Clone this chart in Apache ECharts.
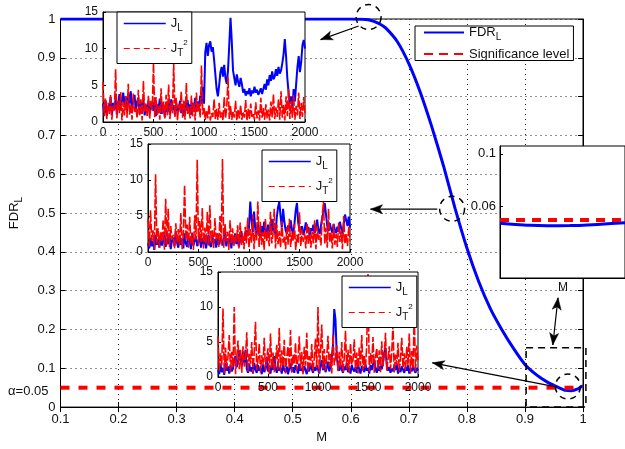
<!DOCTYPE html>
<html><head><meta charset="utf-8">
<script src="https://cdn.jsdelivr.net/npm/echarts@6/dist/echarts.min.js"></script>
<style>html,body{margin:0;padding:0;background:#fff}#c{width:625px;height:449px}</style>
</head><body><div id="c"></div>
<script>
const FONT = '"Liberation Sans", Arial, Helvetica, sans-serif';
const TXT = '#111';

// ---- main chart data ----
const mainM   = [0.1,0.2,0.3,0.4,0.5,0.55,0.6,0.62,0.63,0.64,0.65,0.66,0.68,0.70,0.72,0.74,0.76,0.78,0.80,0.82,0.84,0.86,0.88,0.90,0.92,0.94,0.95,0.96,0.97,0.98,0.99,1.0];
const mainFDR = [1,1,1,1,1,1,1,0.9995,0.998,0.994,0.987,0.977,0.942,0.885,0.81,0.72,0.62,0.51,0.41,0.325,0.255,0.2,0.152,0.11,0.083,0.063,0.056,0.049,0.043,0.042,0.046,0.055];
const alphaLevel = 0.05;

// ---- inset series (sample index 0..2000, 161 samples) ----
const sampleSpan = 2000;
const inset1JL = [2.5,1.2,3.0,0.8,2.2,1.5,3.4,0.9,2.6,1.8, 3.2,1.0,2.4,3.8,1.6,2.9,4.0,2.2,3.5,1.3, 3.9,2.5,4.2,1.8,3.0,3.7,1.4,2.8,3.3,1.1, 2.6,1.9,3.1,0.9,2.3,1.6,2.9,1.2,2.0,2.7, 1.5,3.0,0.8,2.4,1.8,3.2,1.1,2.5,1.9,0.7, 2.2,1.4,2.8,1.0,3.1,1.7,2.3,0.9,2.6,1.5, 1.8,2.9,1.2,2.1,0.8,2.7,1.6,3.0,1.3,2.4, 1.0,2.6,1.9,3.3,1.4,2.8,2.0,3.6,2.5,4.8,
  2.5,9.5,10.8,9.0,10.5,11.0,9.6,10.2,8.5,6.5, 4.5,3.5,5.0,6.8,7.5,6.2,7.8,6.0,5.2,7.0, 10.5,14.2,11.0,7.0,6.0,5.0,6.5,5.5,4.8,6.0, 5.2,4.0,4.5,3.6,4.2,3.8,4.6,3.5,4.3,3.9, 4.8,4.0,4.4,3.7,4.1,4.6,3.8,4.5,5.2,4.4, 5.8,5.0,6.4,5.6,6.9,5.8,6.2,7.2,6.3,7.5, 6.6,7.0,8.0,9.2,11.3,9.0,6.0,4.0,2.5,3.5, 1.8,4.5,2.8,5.2,7.5,9.0,6.8,8.2,10.5,11.2,10.0];
const inset1JT2 = [5.5,0.8,3.2,0.4,2.6,1.1,3.8,0.3,2.2,1.5, 7.2,0.5,3.0,1.2,4.1,0.2,2.7,0.9,3.5,0.6, 5.2,1.0,2.4,0.3,3.9,1.4,2.0,0.5,4.4,0.8, 3.1,0.2,5.6,1.3,2.5,0.7,3.6,0.4,2.9,1.6, 8.1,0.6,3.4,1.0,2.2,0.3,4.6,1.1,2.8,0.5, 3.7,0.9,5.1,0.4,2.6,1.2,8.0,0.7,3.3,0.2, 2.4,1.4,4.2,0.6,3.0,0.3,5.3,1.0,2.1,0.5, 3.6,0.8,2.7,0.2,4.0,1.3,2.5,0.6,7.7,1.0,
  2.0,0.3,1.6,0.5,2.4,0.2,1.2,0.7,3.1,0.4, 1.8,0.3,2.6,0.6,1.3,0.2,3.4,0.5,1.9,6.2, 0.4,2.2,0.3,1.5,0.6,2.9,0.2,1.7,0.5,2.3, 0.3,1.4,0.6,3.0,0.2,1.8,0.4,2.5,0.7,1.2, 0.3,2.7,0.5,1.6,0.2,3.3,0.6,1.9,0.3,2.4, 0.5,1.7,0.2,2.8,0.6,3.8,0.4,2.0,0.7,3.1, 0.3,4.2,0.6,2.4,0.2,3.5,0.8,4.5,0.4,2.9, 0.6,3.7,0.3,2.2,0.9,4.0,0.4,2.6,0.7,3.4,1.2];
const inset2JL = [1.2,0.5,2.0,0.8,1.5,0.3,2.4,1.0,1.7,0.6, 2.2,0.9,1.4,2.8,0.7,1.9,1.1,2.5,0.4,1.6, 2.0,0.8,2.9,1.3,0.6,2.3,1.0,1.8,0.5,2.6, 1.2,0.7,2.1,1.5,0.4,2.7,0.9,1.6,2.2,0.8, 1.4,2.5,0.6,1.9,1.1,2.0,0.5,1.7,2.4,1.0, 0.7,2.2,1.3,1.8,0.6,2.6,1.0,1.5,2.1,0.9, 1.6,2.8,0.8,1.9,1.2,2.4,0.5,2.0,1.4,2.6, 1.1,2.3,0.7,1.8,2.9,1.3,2.1,1.6,3.0,2.2,
  3.4,7.0,4.5,2.8,5.6,3.2,2.4,4.0,3.0,2.2, 3.6,2.6,4.2,3.1,2.0,3.8,2.7,3.3,4.6,2.9, 3.5,2.4,4.8,6.2,7.0,5.0,3.4,6.0,4.2,3.0, 2.6,3.7,2.9,4.4,3.1,2.5,3.9,5.8,6.8,4.0, 3.2,2.7,3.6,2.4,3.0,4.1,2.8,3.5,2.3,3.3, 2.9,3.8,2.6,3.4,4.5,3.0,2.5,3.7,4.8,5.5, 6.8,5.2,3.6,2.9,4.0,3.2,2.7,3.9,3.1,2.6, 3.5,2.8,4.2,3.3,2.5,3.8,5.2,4.4,3.6,4.9,3.4];
const inset2JT2 = [4.6,0.8,5.8,1.5,3.0,0.4,10.8,1.2,3.3,0.6, 2.8,1.4,4.5,0.3,7.4,1.0,6.0,0.7,3.6,1.8, 2.4,0.5,4.0,1.3,3.2,0.9,5.4,0.4,2.7,9.3, 1.6,3.8,0.6,4.9,1.2,2.6,0.3,5.1,1.7,12.8, 0.9,4.3,1.4,6.1,0.5,3.4,1.1,5.6,0.8,6.5, 1.3,3.0,0.4,4.7,1.6,2.5,0.7,5.0,1.0,12.9, 0.6,3.9,1.5,2.8,0.3,4.4,1.1,3.3,0.8,2.4, 1.4,3.7,0.5,4.1,1.0,2.6,0.4,3.5,1.2,4.8,
  0.6,3.2,1.3,5.2,0.4,3.0,1.6,7.0,0.7,4.2, 1.0,2.8,0.3,4.6,1.4,3.1,0.8,5.6,1.2,2.5, 6.0,0.5,3.8,1.1,2.9,0.6,4.3,1.3,2.2,0.4, 3.5,1.0,4.6,0.7,2.7,1.5,3.9,0.3,2.4,1.2, 5.5,0.8,3.1,1.4,2.6,0.5,4.0,1.0,3.3,0.6, 2.8,1.2,4.4,0.4,3.6,1.7,2.3,0.9,5.0,7.0, 1.1,3.4,0.6,6.0,1.3,2.7,0.5,3.9,1.0,2.5, 0.7,4.1,1.4,3.0,0.4,5.0,1.1,2.6,0.8,3.5,1.5];
const inset3JL = [1.0,0.4,1.8,0.7,1.3,0.3,2.0,0.9,1.5,0.5, 1.7,0.8,1.2,2.6,3.0,1.4,2.2,3.8,4.0,1.6, 3.6,2.0,3.9,1.2,0.6,1.9,0.8,1.4,0.5,2.0, 1.1,0.6,1.7,0.9,1.3,0.4,1.8,0.7,1.2,2.9, 0.8,1.5,0.5,1.9,1.0,3.0,1.4,0.6,1.6,0.9, 1.3,0.5,1.8,1.0,0.7,1.5,0.4,1.2,2.0,0.8, 1.4,0.6,1.7,1.1,0.5,1.9,0.9,1.3,0.7,1.6, 1.0,0.4,1.5,0.8,1.8,1.2,0.6,1.4,0.9,1.7,
  1.1,0.5,1.6,2.4,1.0,1.9,0.7,1.3,2.2,0.8, 1.5,2.8,4.5,9.7,8.2,3.0,1.4,0.9,1.8,1.1, 0.6,1.5,1.0,2.0,0.7,1.3,0.5,1.7,1.1,0.8, 1.4,0.6,1.9,1.0,0.5,1.6,1.2,0.7,1.8,0.9, 1.3,0.5,1.7,1.0,0.8,2.5,1.2,0.6,1.5,0.9, 1.6,1.1,2.3,3.5,4.2,1.8,0.9,1.4,0.6,1.2, 0.8,1.6,1.0,1.9,0.5,1.3,0.7,1.5,1.1,0.6, 1.4,0.9,1.7,0.5,1.2,0.8,1.6,1.0,0.6,1.3,0.9];
const inset3JT2 = [5.8,0.9,3.4,1.6,9.8,0.5,4.2,1.2,2.9,6.0, 0.7,3.6,1.4,10.0,0.4,2.8,5.2,1.1,3.9,0.6, 4.4,1.5,2.6,6.4,0.8,3.3,1.9,5.0,0.5,3.7, 7.9,1.0,2.4,4.8,0.6,3.1,1.7,5.6,0.9,2.7, 4.1,0.4,6.2,1.3,3.5,0.7,2.3,4.6,1.0,7.0, 0.8,3.8,1.5,5.3,0.5,2.9,4.4,1.2,6.7,0.6, 3.2,1.8,4.9,0.9,2.5,5.8,1.1,3.6,0.4,4.3, 1.6,6.3,0.7,3.0,1.4,4.7,0.8,2.6,5.5,1.3,
  10.0,0.6,3.7,7.5,1.2,4.0,0.9,2.8,5.9,1.5, 3.3,0.5,6.1,1.7,2.9,4.5,0.8,3.6,1.4,5.0, 0.7,2.7,6.6,1.1,3.9,0.6,4.8,1.8,2.4,5.4, 1.0,3.5,0.5,4.2,1.6,6.0,0.9,3.1,1.3,4.6, 14.7,0.8,3.4,1.9,5.7,0.6,2.8,4.1,1.2,3.8, 0.7,5.1,1.5,3.0,6.3,0.9,2.5,4.4,1.1,3.6, 7.5,0.6,3.2,1.7,4.9,0.8,2.6,5.6,1.3,3.4, 0.9,4.3,1.6,6.2,0.5,3.7,1.2,9.0,0.8,4.5,2.1];

// ---- zoom inset data ----
const zoomPos = [0, 0.19, 0.375, 0.56, 0.78, 1.0];
const zoomFDR = [0.0474, 0.0462, 0.0456, 0.0457, 0.0466, 0.0478];
const zoomTicks = [0.06, 0.1];

// ---- helpers ----
const toXY = arr => arr.map((v, i) => [i * sampleSpan / (arr.length - 1), v]);
const pair = (xs, ys) => xs.map((x, i) => [x, ys[i]]);
const plain = v => String(v);

const chart = echarts.init(document.getElementById('c'), null, {renderer: 'canvas'});

const insetGrids = [
  {left: 103, top: 12, width: 202, height: 110},
  {left: 148, top: 144, width: 202, height: 108},
  {left: 218, top: 272, width: 200, height: 105}
];
const insetLegendPos = [[117, 12], [262, 150], [342, 276]];
const insetData = [[inset1JL, inset1JT2], [inset2JL, inset2JT2], [inset3JL, inset3JT2]];

const grids = [
  {left: 59, top: 19, width: 524, height: 394, show: true, borderColor: '#000', borderWidth: 1, backgroundColor: 'rgba(0,0,0,0)', z: 0}
];
insetGrids.forEach(g => grids.push(Object.assign({show: true, borderColor: '#000', borderWidth: 1, backgroundColor: '#fff', z: 10}, g)));
grids.push({left: 500, top: 146, width: 160, height: 132, show: true, borderColor: '#000', borderWidth: 1, backgroundColor: '#fff', z: 10});

const axisLine = {show: true, lineStyle: {color: '#000', width: 1}};
const dotted = {show: true, lineStyle: {color: '#222', width: 1, type: [1, 4]}};
const lab = (fs, m) => ({fontSize: fs, color: TXT, fontFamily: FONT, margin: m, formatter: plain});

const xAxes = [
  {gridIndex: 0, type: 'value', min: 0.1, max: 1, interval: 0.1, position: 'bottom', z: 1,
   axisLine, axisTick: {inside: true, length: 5, lineStyle: {color: '#000'}},
   axisLabel: lab(13, 6), splitLine: dotted,
   name: 'M', nameLocation: 'middle', nameGap: 18, nameTextStyle: {fontSize: 13, color: TXT, fontFamily: FONT}},
  {gridIndex: 0, type: 'value', min: 0.1, max: 1, interval: 0.1, position: 'top', z: 1,
   axisLine, axisTick: {inside: true, length: 5, lineStyle: {color: '#000'}},
   axisLabel: {show: false}, splitLine: {show: false}}
];
const yAxes = [
  {gridIndex: 0, type: 'value', min: 0, max: 1, interval: 0.1, position: 'left', z: 1,
   axisLine, axisTick: {show: true, inside: true, length: 5, lineStyle: {color: '#000'}},
   axisLabel: lab(13, 5), splitLine: dotted,
   name: '{n|FDR}{s|L}', nameLocation: 'middle', nameGap: 36,
   nameTextStyle: {fontFamily: FONT, color: TXT, rich: {
     n: {fontSize: 13, fontFamily: FONT, color: TXT, lineHeight: 20, verticalAlign: 'middle'},
     s: {fontSize: 10, fontFamily: FONT, color: TXT, verticalAlign: 'bottom'}}}},
  {gridIndex: 0, type: 'value', min: 0, max: 1, interval: 0.1, position: 'right', z: 1,
   axisLine, axisTick: {show: true, inside: true, length: 5, lineStyle: {color: '#000'}},
   axisLabel: {show: false}, splitLine: {show: false}}
];
insetGrids.forEach((g, k) => {
  xAxes.push({gridIndex: k + 1, type: 'value', min: 0, max: sampleSpan, interval: 500, z: 11,
    axisLine, axisTick: {inside: true, length: 3, lineStyle: {color: '#000'}},
    axisLabel: lab(12, 5), splitLine: {show: false}});
  yAxes.push({gridIndex: k + 1, type: 'value', min: 0, max: 15, interval: 5, z: 11,
    axisLine, axisTick: {show: true, inside: true, length: 3, lineStyle: {color: '#000'}},
    axisLabel: lab(12, 5), splitLine: {show: false}});
});
xAxes.push({gridIndex: 4, type: 'value', min: 0, max: 1, z: 11, axisLine,
  axisTick: {show: false}, axisLabel: {show: false}, splitLine: {show: false}});
yAxes.push({gridIndex: 4, type: 'value', min: 0.006, max: 0.106, z: 11, axisLine,
  axisTick: {show: true, inside: true, length: 3, customValues: zoomTicks, lineStyle: {color: '#000'}},
  axisLabel: Object.assign(lab(13, 4), {customValues: zoomTicks}), splitLine: {show: false}});

const BLUE = '#0000ff', RED = '#ff0000';
const series = [
  {name: 'FDR_L', type: 'line', xAxisIndex: 0, yAxisIndex: 0, z: 2, symbol: 'none', smooth: 0.2,
   data: pair(mainM, mainFDR), lineStyle: {color: BLUE, width: 3}, itemStyle: {color: BLUE}},
  {name: 'Significance level', type: 'line', xAxisIndex: 0, yAxisIndex: 0, z: 2, symbol: 'none',
   data: [[mainM[0], alphaLevel], [mainM[mainM.length - 1], alphaLevel]],
   lineStyle: {color: RED, width: 4, type: [9, 9]}, itemStyle: {color: RED}}
];
insetData.forEach((d, k) => {
  series.push({name: 'J_L', type: 'line', xAxisIndex: k + 2, yAxisIndex: k + 2, z: 12, symbol: 'none',
    data: toXY(d[0]), lineStyle: {color: BLUE, width: 2}, itemStyle: {color: BLUE}});
  series.push({name: 'J_T2', type: 'line', xAxisIndex: k + 2, yAxisIndex: k + 2, z: 12, symbol: 'none',
    data: toXY(d[1]), lineStyle: {color: RED, width: 1.6, type: [9, 2]}, itemStyle: {color: RED}});
});
series.push({name: 'zoomFDR', type: 'line', xAxisIndex: 5, yAxisIndex: 5, z: 12, symbol: 'none', smooth: true,
  data: pair(zoomPos, zoomFDR), lineStyle: {color: BLUE, width: 3}, itemStyle: {color: BLUE}});
series.push({name: 'zoomAlpha', type: 'line', xAxisIndex: 5, yAxisIndex: 5, z: 12, symbol: 'none',
  data: [[zoomPos[0], alphaLevel], [zoomPos[zoomPos.length - 1], alphaLevel]],
  lineStyle: {color: RED, width: 4, type: [9, 7]}, itemStyle: {color: RED},
  markLine: {silent: true, symbol: 'none', label: {show: false}, animation: false,
    lineStyle: {color: '#222', width: 1, type: [1, 4]},
    data: zoomTicks.map(v => ({yAxis: v}))}});

const subRich = {
  j: {fontSize: 13, fontFamily: FONT, color: TXT, lineHeight: 20, verticalAlign: 'middle'},
  n: {fontSize: 13, fontFamily: FONT, color: TXT, lineHeight: 20, verticalAlign: 'middle'},
  sub: {fontSize: 10, fontFamily: FONT, color: TXT, verticalAlign: 'bottom'},
  sup: {fontSize: 8, fontFamily: FONT, color: TXT, verticalAlign: 'top'}
};
const legends = [{
  left: 415, top: 26, orient: 'vertical', itemWidth: 40, itemHeight: 14, itemGap: 5,
  padding: [0, 4, 0, 8], borderColor: '#000', borderWidth: 1, backgroundColor: '#fff', z: 15,
  selectedMode: false, itemStyle: {opacity: 0},
  data: [{name: 'FDR_L'}, {name: 'Significance level', lineStyle: {type: [9, 6]}}],
  formatter: n => n === 'FDR_L' ? '{n|FDR}{sub|L}' : '{n|Significance level}',
  textStyle: {fontSize: 13, fontFamily: FONT, color: TXT, rich: subRich}
}];
insetLegendPos.forEach(p => legends.push({
  left: p[0], top: p[1], orient: 'vertical', itemWidth: 42, itemHeight: 14, itemGap: 5,
  padding: [5, 4, 5, 6], borderColor: '#000', borderWidth: 1, backgroundColor: '#fff', z: 14,
  selectedMode: false, itemStyle: {opacity: 0},
  data: [{name: 'J_L', lineStyle: {width: 1.5}}, {name: 'J_T2', lineStyle: {width: 1, type: [6, 4]}}],
  formatter: n => n === 'J_L' ? '{j|J}{sub|L}' : '{j|J}{sub|T}{sup|2}',
  textStyle: {fontSize: 13, fontFamily: FONT, color: TXT, rich: subRich}
}));

chart.setOption({
  animation: false, backgroundColor: '#fff', textStyle: {fontFamily: FONT},
  grid: grids, xAxis: xAxes, yAxis: yAxes, series, legend: legends
});

// ---- annotations, anchored in main-axis data coordinates ----
const P = v => chart.convertToPixel({gridIndex: 0}, v);
const annCircles = [[0.6307, 1.005], [0.7745, 0.511], [0.974, 0.053]];
const annArrows = [[[0.6135, 0.982], [0.548, 0.947]], [[0.749, 0.51], [0.634, 0.51]], [[0.9536, 0.052], [0.7406, 0.114]]];
const annDouble = [[0.957, 0.2817], [0.948, 0.16]];
const annBox = [[0.902, 0.153], [1.005, 0]];

function head(from, to) {
  const dx = to[0] - from[0], dy = to[1] - from[1], L = Math.hypot(dx, dy);
  const ux = dx / L, uy = dy / L, px = -uy, py = ux;
  const len = 12, hw = 4.5, notch = 9;
  return {type: 'polygon', z: 20, shape: {points: [
    to,
    [to[0] - ux * len + px * hw, to[1] - uy * len + py * hw],
    [to[0] - ux * notch, to[1] - uy * notch],
    [to[0] - ux * len - px * hw, to[1] - uy * len - py * hw]
  ]}, style: {fill: '#000', stroke: '#000', lineWidth: 0.5}};
}
const g = [];
annCircles.forEach(c => {
  const p = P(c);
  g.push({type: 'circle', z: 20, shape: {cx: p[0], cy: p[1], r: 12.5},
    style: {fill: 'none', stroke: '#000', lineWidth: 1.5, lineDash: [6, 5]}});
});
annArrows.forEach(a => {
  const s = P(a[0]), e = P(a[1]);
  g.push({type: 'line', z: 20, shape: {x1: s[0], y1: s[1], x2: e[0], y2: e[1]}, style: {stroke: '#000', lineWidth: 1.2}});
  g.push(head(s, e));
});
{
  const s = P(annDouble[0]), e = P(annDouble[1]);
  g.push({type: 'line', z: 20, shape: {x1: s[0], y1: s[1], x2: e[0], y2: e[1]}, style: {stroke: '#000', lineWidth: 1.2}});
  g.push(head(s, e)); g.push(head(e, s));
  g.push({type: 'text', z: 20, x: s[0] + 5, y: s[1] - 10, style: {text: 'M', fontSize: 12, fontFamily: FONT, fill: TXT, align: 'center', verticalAlign: 'middle'}});
}
{
  const a = P(annBox[0]), b = P(annBox[1]);
  g.push({type: 'rect', z: 20, shape: {x: a[0], y: a[1], width: b[0] - a[0], height: b[1] - a[1]},
    style: {fill: 'none', stroke: '#000', lineWidth: 1.5, lineDash: [7, 5]}});
}
{
  const p = P([mainM[0], alphaLevel]);
  g.push({type: 'text', z: 20, x: p[0] - 12, y: p[1] + 3.5, style: {text: 'α=0.05', fontSize: 13, fontFamily: FONT, fill: TXT, align: 'right', verticalAlign: 'middle'}});
}
chart.setOption({graphic: g});
</script></body></html>
